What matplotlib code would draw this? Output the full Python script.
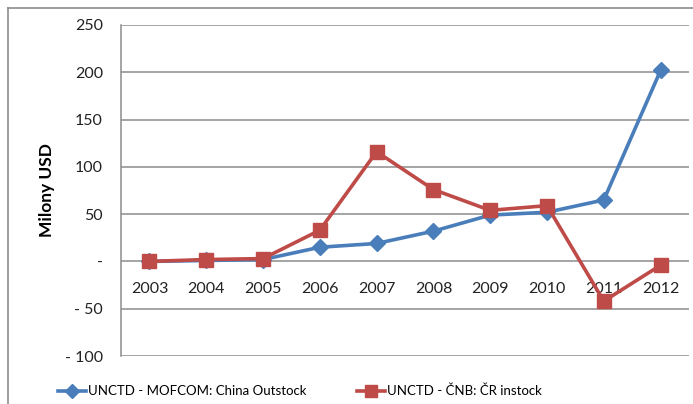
import matplotlib
matplotlib.use("Agg")
import matplotlib.pyplot as plt
from matplotlib.lines import Line2D

years = ["2003", "2004", "2005", "2006", "2007", "2008", "2009", "2010", "2011", "2012"]
china_outstock = [0, 1, 2, 15, 19, 32, 49, 52, 65, 202]
cr_instock = [0, 2, 3, 33, 116, 76, 54, 59, -42, -4]
yticks = [-100, -50, 0, 50, 100, 150, 200, 250]
ytick_labels = ["- 100", "- 50", "-", "50", "100", "150", "200", "250"]
series_names = ["UNCTD - MOFCOM: China Outstock", "UNCTD - ČNB: ČR instock"]

plt.rcParams['font.family'] = ['Lato', 'DejaVu Sans']

W, H = 693, 404
fig = plt.figure(figsize=(W / 100, H / 100), dpi=100)
ax = fig.add_axes([121 / W, 1 - 356 / H, 568 / W, (356 - 25) / H])

blue = "#4A7EBB"
red = "#BE4B48"
grid_c = "#8C8C8C"

x = list(range(len(years)))
ax.plot(x, china_outstock, color=blue, lw=2.6, marker="D", ms=8, zorder=3)
ax.plot(x, cr_instock, color=red, lw=2.6, marker="s", ms=9.5, zorder=4)

ax.set_xlim(-0.5, len(years) - 0.5)
ax.set_ylim(-100, 250)
ax.set_yticks(yticks)
ax.set_yticklabels(ytick_labels, fontsize=11.5, color="#222222")
ax.tick_params(axis="y", length=0, pad=13)
ax.set_xticks([])
for v in yticks:
    ax.axhline(v, color=grid_c, lw=1.1, zorder=1)

for s in ["top", "right", "bottom"]:
    ax.spines[s].set_visible(False)
ax.spines["left"].set_color(grid_c)
ax.spines["left"].set_linewidth(1.1)

for xi, lab in zip(x, years):
    ax.text(xi, -29, lab, ha="center", va="center", fontsize=11.5, color="#222222", zorder=2)

ax.set_ylabel("Milony USD", fontsize=12.5, fontweight="bold")
ax.yaxis.set_label_coords((47 - 121) / 568, 0.5)
ax.yaxis.label.set_va("center")

# outer chart frame (partially visible)
fig.add_artist(Line2D([8 / W, 8 / W], [0, 1 - 8 / H], transform=fig.transFigure, color="#8C8C8C", lw=1.2))
fig.add_artist(Line2D([8 / W, 1], [1 - 8 / H, 1 - 8 / H], transform=fig.transFigure, color="#8C8C8C", lw=1.2))

# legend
handles = [Line2D([0], [0], color=blue, lw=2.6, marker="D", ms=7),
           Line2D([0], [0], color=red, lw=2.6, marker="s", ms=8.5)]
fig.legend(handles, series_names, loc="center", bbox_to_anchor=(300 / W, 1 - 391 / H),
           ncol=2, frameon=False, fontsize=9.5, handlelength=2.1, handletextpad=0.2,
           columnspacing=3.8)

fig.savefig("out.png", dpi=100)
